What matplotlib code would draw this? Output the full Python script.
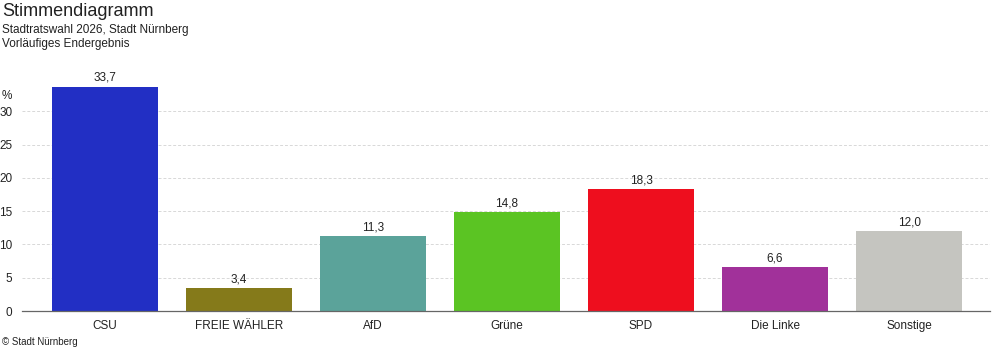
import matplotlib.pyplot as plt

parteien = ["CSU", "FREIE WÄHLER", "AfD", "Grüne", "SPD", "Die Linke", "Sonstige"]
anteile = [33.7, 3.4, 11.3, 14.8, 18.3, 6.6, 12.0]
farben = ["#222FC4", "#857A1A", "#5BA39A", "#5BC423", "#EE0E1E", "#A1319A", "#C5C5C0"]
y_ticks = [0, 5, 10, 15, 20, 25, 30]

plt.rcParams['font.family'] = ['Liberation Sans', 'DejaVu Sans']

fig = plt.figure(figsize=(9.92, 3.52), dpi=100)
ax = fig.add_axes([22 / 992, 41 / 352, 968 / 992, 233 / 352])

x = range(len(parteien))
bars = ax.bar(x, anteile, width=0.79, color=farben, zorder=2)
for b, v in zip(bars, anteile):
    ax.text(b.get_x() + b.get_width() / 2, v + 0.4, f"{v:.1f}".replace(".", ","),
            ha="center", va="bottom", fontsize=8.5, color="#222222")

ax.set_xlim(-0.619, 6.604)
ax.set_ylim(0, 35)
ax.set_yticks(y_ticks)
ax.set_yticklabels([str(t) for t in y_ticks], fontsize=8.5, color="#222222")
ax.set_xticks(list(x))
ax.set_xticklabels(parteien, fontsize=8.5, color="#222222", va="baseline")
ax.tick_params(length=0)
ax.tick_params(axis="x", pad=13)
ax.tick_params(axis="y", pad=7)
for t in ax.get_yticklabels():
    t.set_horizontalalignment("right")

for t in y_ticks[1:]:
    ax.axhline(t, color="#d8d8d8", linestyle=(0, (3, 2)), linewidth=0.7, zorder=1)

for s in ["top", "right", "left"]:
    ax.spines[s].set_visible(False)
ax.spines["bottom"].set_color("#666666")
ax.spines["bottom"].set_linewidth(0.9)

fig.text(2 / 992, 1 - 96 / 352, "%", fontsize=8.5, color="#222222", va="center", ha="left")

fig.text(2 / 992, 1 - 12 / 352, "Stimmendiagramm", fontsize=13, color="#222222", va="center")
fig.text(2 / 992, 1 - 30 / 352, "Stadtratswahl 2026, Stadt Nürnberg", fontsize=8.5, color="#222222", va="center")
fig.text(2 / 992, 1 - 44 / 352, "Vorläufiges Endergebnis", fontsize=8.5, color="#222222", va="center")
fig.text(2 / 992, 1 - 342 / 352, "© Stadt Nürnberg", fontsize=7, color="#222222", va="center")

fig.savefig("out.png", dpi=100)
